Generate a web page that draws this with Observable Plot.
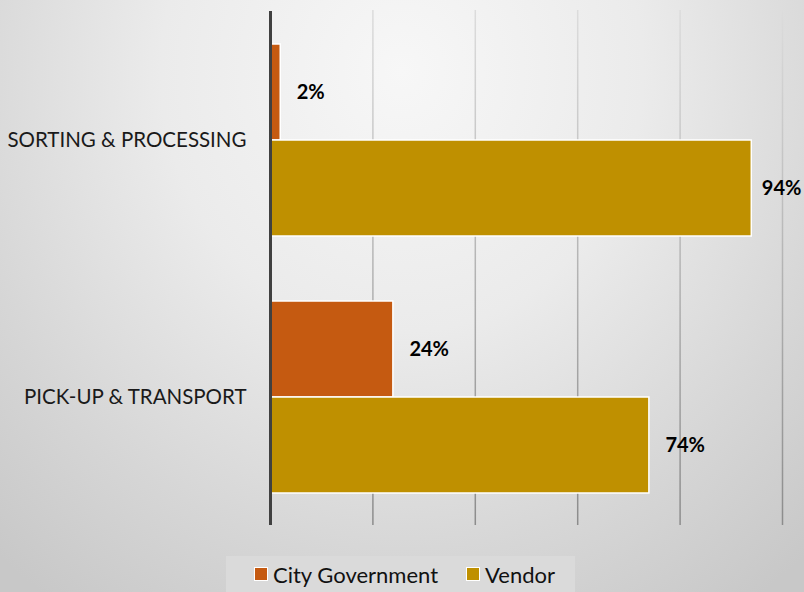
<!DOCTYPE html>
<html>
<head>
<meta charset="utf-8">
<script src="https://cdn.jsdelivr.net/npm/d3@7"></script>
<script src="https://cdn.jsdelivr.net/npm/@observablehq/plot@0.6"></script>
<style>
  html, body { margin: 0; padding: 0; }
  body {
    width: 804px; height: 592px; overflow: hidden; position: relative;
    background: radial-gradient(ellipse 75% 110% at 50% 12%, #f7f7f7 0%, #ebebeb 40%, #d6d6d6 75%, #c8c8c8 100%);
    font-family: Lato, "Open Sans", sans-serif;
  }
  .layer { position: absolute; left: 0; top: 0; }
  #legend {
    position: absolute; left: 226px; top: 556px; width: 349px; height: 36px;
    background: #dadada; display: flex; align-items: center; padding-left: 28px; box-sizing: border-box;
    font-size: 22px; color: #111; white-space: nowrap;
  }
  .item { display: flex; align-items: center; margin-right: 28px; flex-shrink: 0; white-space: nowrap; }
  .sw { width: 12px; height: 12px; border: 1.5px solid #fff; margin-right: 5px; flex-shrink: 0; }
</style>
</head>
<body>
<div id="grid" class="layer"></div>
<div id="chart" class="layer"></div>
<div id="legend"></div>
<script>
const categories = ["SORTING & PROCESSING", "PICK-UP & TRANSPORT"];
const series = ["City Government", "Vendor"];
const cityGov = [2, 24];
const vendor = [94, 74];
const xTicks = [0, 20, 40, 60, 80, 100];
const colors = ["#C55A11", "#BF9000"];

const data = [];
categories.forEach((c, i) => {
  data.push({category: c, series: series[0], value: cityGov[i]});
  data.push({category: c, series: series[1], value: vendor[i]});
});

const common = {
  width: 804, height: 545,
  marginTop: 10, marginBottom: 20, marginLeft: 270, marginRight: 22,
  style: {background: "transparent", fontFamily: "Lato, 'Open Sans', sans-serif", fontSize: "20.5px", color: "#1a1a1a"}
};

// background gridlines
const grid = Plot.plot({
  ...common,
  x: {domain: [0, 100], axis: null},
  marks: [
    Plot.ruleX(xTicks.filter(d => d > 0), {stroke: "url(#gridGrad)", strokeWidth: 1.5})
  ]
});
d3.select(grid).insert("defs", ":first-child").html(
  `<linearGradient id="gridGrad" gradientUnits="userSpaceOnUse" x1="0" y1="10" x2="0" y2="525">
     <stop offset="0" stop-color="#dcdcdc"/>
     <stop offset="1" stop-color="#8c8c8c"/>
   </linearGradient>`);
document.getElementById("grid").append(grid);

const labelStyle = {x: "value", y: "series", fy: "category", text: d => d.value + "%",
  textAnchor: "start", fontWeight: "bold", fontSize: 20, fill: "#000"};

const chart = Plot.plot({
  ...common,
  x: {domain: [0, 100], axis: null},
  y: {domain: series, axis: null, paddingInner: 0, paddingOuter: 0.327},
  fy: {domain: categories, padding: 0, axis: "left", tickSize: 0, tickPadding: 24, label: null},
  color: {domain: series, range: colors},
  marks: [
    Plot.barX(data, {x: "value", y: "series", fy: "category", fill: "series", stroke: "#fff", strokeWidth: 1.5}),
    // labels; those near the right edge are pulled in to stay inside the chart
    Plot.text(data, {...labelStyle, filter: d => d.value < 90, dx: 16}),
    Plot.text(data, {...labelStyle, filter: d => d.value >= 90, dx: 10}),
    Plot.ruleX([0], {stroke: "#404040", strokeWidth: 3})
  ]
});
document.getElementById("chart").append(chart);

const legend = document.getElementById("legend");
series.forEach((s, i) => {
  const item = document.createElement("div");
  item.className = "item";
  item.innerHTML = `<span class="sw" style="background:${colors[i]}"></span><span>${s}</span>`;
  legend.append(item);
});
</script>
</body>
</html>
